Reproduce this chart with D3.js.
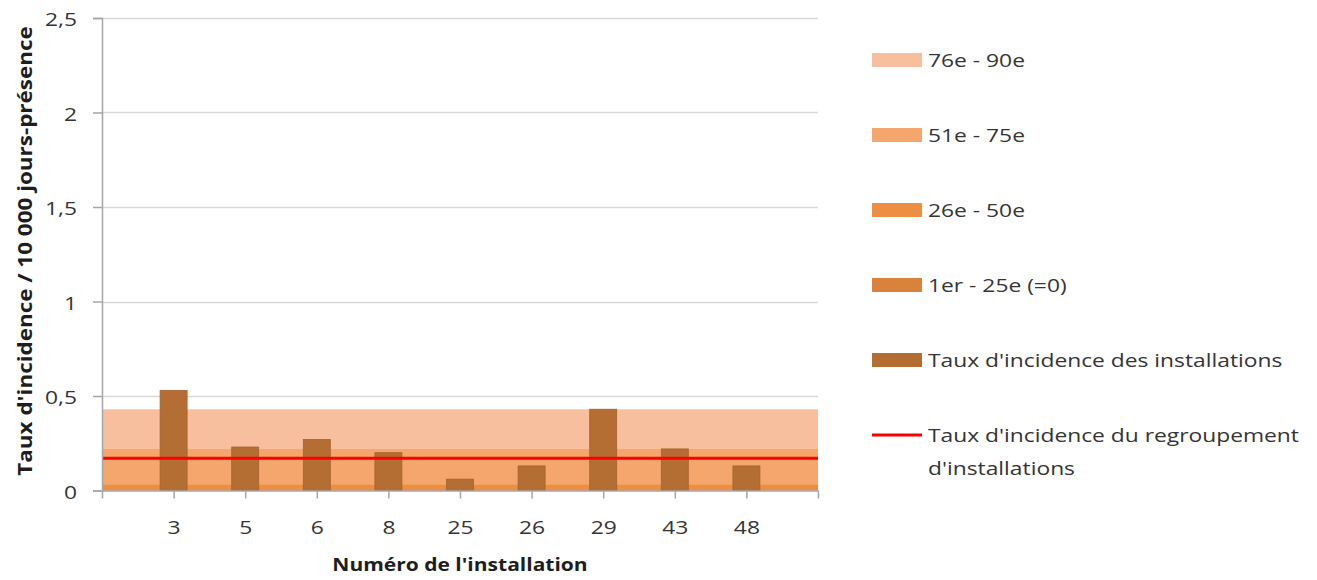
<!DOCTYPE html>
<html>
<head>
<meta charset="utf-8">
<script src="https://cdn.jsdelivr.net/npm/d3@7"></script>
<style>
    body { margin: 0; background: #fff; }
    svg { display: block; font-family: "Open Sans", "Liberation Sans", sans-serif; }
    svg text { font-family: "Open Sans", "Liberation Sans", sans-serif; }
</style>
</head>
<body>
<svg id="chart" width="1317" height="580"></svg>
<script>
// Data
const installations = ["3", "5", "6", "8", "25", "26", "29", "43", "48"];
const tauxInstallations = [0.53, 0.23, 0.27, 0.20, 0.06, 0.13, 0.43, 0.22, 0.13];
const tauxRegroupement = 0.17;
const bandLabels = ["76e - 90e", "51e - 75e", "26e - 50e", "1er - 25e (=0)"];
const bandValues = [0.43, 0.22, 0.03, 0];
const yTicks = [0, 0.5, 1, 1.5, 2, 2.5];

// Colours
const bandColors = ["#f8bf9f", "#f5a66d", "#ee8e42", "#d9823c"];
const barColor = "#b46e33";
const lineColor = "#ff0000";
const textColor = "#353535";

// The source font is wider than Open Sans: stretch the text a little.
const STRETCH = 1.2;
function stretch(sel) {
    sel.each(function () {
        const w = this.getComputedTextLength();
        d3.select(this)
            .attr("textLength", w * STRETCH)
            .attr("lengthAdjust", "spacingAndGlyphs");
    });
}

const svg = d3.select("#chart");

// Slots: an empty slot at each end, the installations in between.
const slots = ["", ...installations, " "];
const x = d3.scalePoint()
    .domain(slots)
    .range([102, 818]);

const y = d3.scaleLinear()
    .domain([0, 2.5])
    .range([490.5, 18]);

const fmt = d => String(d).replace(".", ",");

// Gridlines
svg.append("g")
    .selectAll("line")
    .data(yTicks.slice(1))
    .join("line")
        .attr("x1", 102)
        .attr("x2", 818)
        .attr("y1", d => Math.round(y(d)) + 0.5)
        .attr("y2", d => Math.round(y(d)) + 0.5)
        .attr("stroke", "#d9d9d9")
        .attr("stroke-width", 1.5);

// Percentile bands (drawn from the widest to the narrowest)
const area = d3.area()
    .x(d => x(d))
    .y0(y(0));

svg.append("g")
    .selectAll("path")
    .data(bandValues.map((v, i) => ({ v, i })))
    .join("path")
        .attr("d", b => area.y1(y(b.v))([slots[0], slots[slots.length - 1]]))
        .attr("fill", b => bandColors[b.i]);

// Bars
const barWidth = 27;
svg.append("g")
    .selectAll("rect")
    .data(installations.map((k, i) => ({ k, v: tauxInstallations[i] })))
    .join("rect")
        .attr("x", d => x(d.k) - barWidth / 2)
        .attr("y", d => y(d.v))
        .attr("width", barWidth)
        .attr("height", d => y(0) - y(d.v))
        .attr("fill", barColor)
        .attr("stroke", "#a6622c")
        .attr("stroke-width", 0.8);

// Regroupement line
svg.append("line")
    .attr("x1", x(slots[0]))
    .attr("x2", x(slots[slots.length - 1]))
    .attr("y1", y(tauxRegroupement))
    .attr("y2", y(tauxRegroupement))
    .attr("stroke", lineColor)
    .attr("stroke-width", 3);

// Y axis
const yAxis = svg.append("g")
    .attr("transform", "translate(102,0)")
    .call(d3.axisLeft(y).tickValues(yTicks).tickFormat(fmt).tickSize(9).tickPadding(16));
yAxis.attr("font-family", null).attr("font-size", null);
yAxis.select(".domain").attr("stroke", "#a6a6a6").attr("stroke-width", 1.5);
yAxis.selectAll(".tick line").attr("stroke", "#a6a6a6").attr("stroke-width", 1.5);
yAxis.selectAll(".tick text")
    .attr("font-size", 19)
    .attr("dy", "0.4em")
    .attr("fill", textColor)
    .call(stretch);

// X axis
const xAxis = svg.append("g")
    .attr("transform", `translate(0,${y(0)})`)
    .call(d3.axisBottom(x).tickSize(8).tickPadding(22).tickSizeOuter(0));
xAxis.attr("font-family", null).attr("font-size", null);
xAxis.select(".domain").attr("stroke", "#a6a6a6").attr("stroke-width", 1.5);
xAxis.selectAll(".tick line").attr("stroke", "#a6a6a6").attr("stroke-width", 1.5);
xAxis.selectAll(".tick text")
    .attr("font-size", 19)
    .attr("fill", textColor)
    .call(stretch);

// Axis titles
svg.append("text")
    .attr("transform", "translate(32,251) rotate(-90)")
    .attr("text-anchor", "middle")
    .attr("font-size", 18.7)
    .attr("font-weight", "bold")
    .attr("fill", "#1e1e1e")
    .text("Taux d'incidence  / 10 000 jours-présence")
    .call(stretch);

svg.append("text")
    .attr("x", 460)
    .attr("y", 571)
    .attr("text-anchor", "middle")
    .attr("font-size", 17.5)
    .attr("font-weight", "bold")
    .attr("fill", "#1e1e1e")
    .text("Numéro de l'installation")
    .call(stretch);

// Legend
const legendRows = [
    ...bandLabels.map((label, i) => ({ label: [label], type: "rect", color: bandColors[i] })),
    { label: ["Taux d'incidence des installations"], type: "rect", color: barColor },
    { label: ["Taux d'incidence du regroupement", "d'installations"], type: "line", color: lineColor }
];

const legend = svg.append("g")
    .selectAll("g")
    .data(legendRows)
    .join("g")
        .attr("transform", (d, i) => `translate(872,${60 + i * 75})`);

legend.filter(d => d.type === "rect")
    .append("rect")
        .attr("x", 0)
        .attr("y", -7)
        .attr("width", 50)
        .attr("height", 14)
        .attr("fill", d => d.color);

legend.filter(d => d.type === "line")
    .append("line")
        .attr("x1", 0)
        .attr("x2", 50)
        .attr("stroke", d => d.color)
        .attr("stroke-width", 3);

legend.selectAll("text")
    .data(d => d.label)
    .join("text")
        .attr("x", 56)
        .attr("y", (d, i) => i * 33)
        .attr("dy", "0.38em")
        .attr("font-size", 19)
        .attr("fill", textColor)
        .text(d => d)
        .call(stretch);
</script>
</body>
</html>
